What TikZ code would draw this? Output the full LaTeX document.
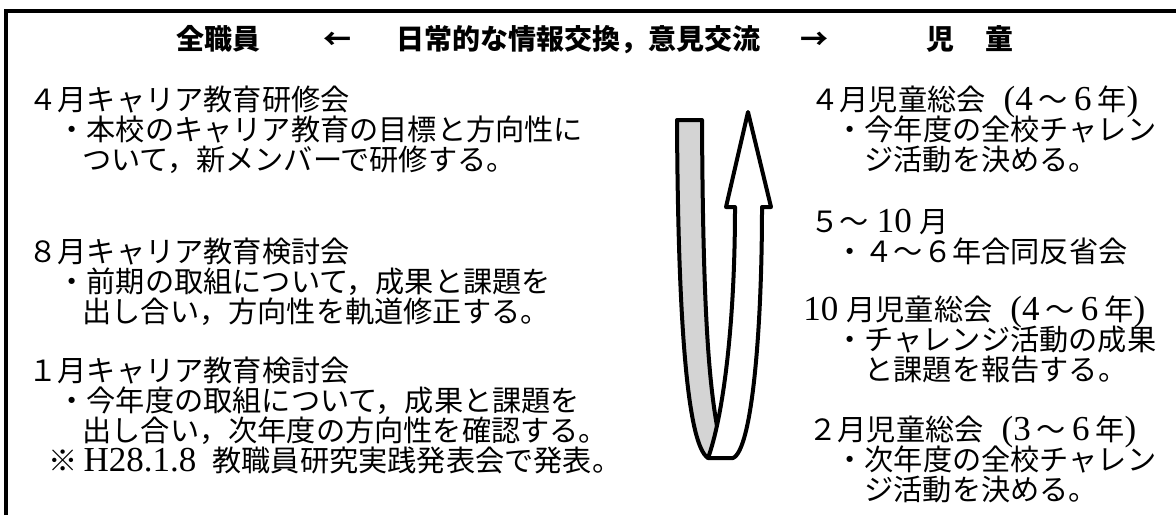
\documentclass[tikz,border=0pt]{standalone}
\usepackage{fontspec}
\usepackage{tikz}
\usetikzlibrary{calc}
\usetikzlibrary{positioning}
\newfontfamily\jpfont{Noto Sans CJK JP}
\newfontfamily\latfont{Liberation Serif}[Scale=1.2]

\begin{document}
\begin{tikzpicture}
			[
			x=0.5pt, y=-0.5pt,
			font=\jpfont\fontsize{14.6}{15}\selectfont
			]
			
			% Two text styles: header and body line
			\tikzstyle{head}=[inner sep=0, text height=0.88em, text depth=0.12em, font=\jpfont\bfseries\fontsize{14}{15}\selectfont];
			\tikzstyle{line}=[inner sep=0, text height=0.88em, text depth=0.12em, anchor=west];
			% The ribbon arrow
			\tikzstyle{ribbon}=[line width=2pt, line join=round];
			
			\useasboundingbox (0,0) rectangle (1176,515);
			
			% Frame, open to the right and bottom
			\draw[line width=1.6pt] (6,515) -- (6,11) -- (1176,11);
			
			% Header
			\node[head] (staff) at (218,42) {全職員};
			\node[head] (larr) at (337,42) {←};
			\node[head] (talk) at (578,42) {日常的な情報交換，意見交流};
			\node[head] (rarr) at (814,42) {→};
			\node[head] (ji) at (940,42) {児};
			\node[head] (do) at (999,42) {童};
			
			% Staff side
			% April
			\node[line] (a1) at (28,103) {４月キャリア教育研修会};
			\node[line] (a2) at (57,133) {・本校のキャリア教育の目標と方向性に};
			\node[line] (a3) at (82,163) {ついて，新メンバーで研修する。};
			% August
			\node[line] (b1) at (28,255) {８月キャリア教育検討会};
			\node[line] (b2) at (57,285) {・前期の取組について，成果と課題を};
			\node[line] (b3) at (82,315) {出し合い，方向性を軌道修正する。};
			% January
			\node[line] (c1) at (28,374) {１月キャリア教育検討会};
			\node[line] (c2) at (57,404) {・今年度の取組について，成果と課題を};
			\node[line] (c3) at (82,434) {出し合い，次年度の方向性を確認する。};
			\node[line] (c4) at (48,464) {※\hspace{3pt}{\latfont H28.1.8}\hspace{8pt}教職員研究実践発表会で発表。};
			
			% Ribbon: grey back side
			\draw[ribbon, fill=black!17] (677,120) -- (702,120)
				.. controls (703,330) and (710,400) .. (722,450) -- (708,458)
				.. controls (688,445) and (678,330) .. (677,120) -- cycle;
			% Ribbon: white front side with the head
			\draw[ribbon, fill=white] (708,458) -- (733,458)
				.. controls (752,450) and (762,330) .. (762,207)
				-- (771,207) -- (748,112) -- (726,207) -- (735,207)
				.. controls (735,330) and (722,420) .. (708,458) -- cycle;
			
			% Pupils side
			% April
			\node[line] (p1) at (810,103) {４月児童総会\hspace{9pt}{\latfont (4}\hspace{3pt}～\hspace{3pt}{\latfont 6}\hspace{3pt}年{\latfont )}};
			\node[line] (p2) at (835,133) {・今年度の全校チャレン};
			\node[line] (p3) at (864,163) {ジ活動を決める。};
			% May to October
			\node[line] (q1) at (810,225) {５～\hspace{4pt}{\latfont 10}\hspace{4pt}月};
			\node[line] (q2) at (835,255) {・４～６年合同反省会};
			% October
			\node[line] (r1) at (803,313) {{\latfont 10}\hspace{4pt}月児童総会\hspace{9pt}{\latfont (4}\hspace{3pt}～\hspace{3pt}{\latfont 6}\hspace{3pt}年{\latfont )}};
			\node[line] (r2) at (835,343) {・チャレンジ活動の成果};
			\node[line] (r3) at (864,373) {と課題を報告する。};
			% February
			\node[line] (s1) at (808,433) {２月児童総会\hspace{9pt}{\latfont (3}\hspace{3pt}～\hspace{3pt}{\latfont 6}\hspace{3pt}年{\latfont )}};
			\node[line] (s2) at (835,463) {・次年度の全校チャレン};
			\node[line] (s3) at (864,493) {ジ活動を決める。};
			\end{tikzpicture}
\end{document}
